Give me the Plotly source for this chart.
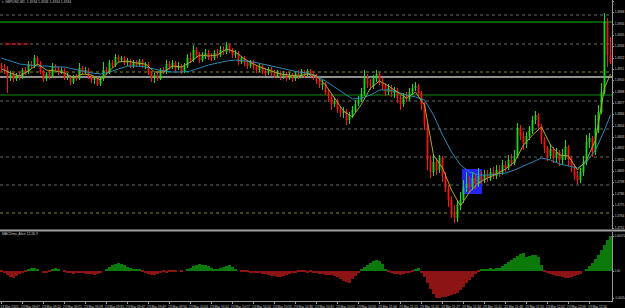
import plotly.graph_objects as go

# ---------------- data (GBPUSD M1) ----------------
first_open = 1.4914
close = [
    1.4912, 1.4910, 1.4902, 1.4906, 1.4901, 1.4905, 1.4903, 1.4910, 1.4908, 1.4916,
    1.4914, 1.4922, 1.4917, 1.4908, 1.4901, 1.4906, 1.4903, 1.4914, 1.4912, 1.4908,
    1.4910, 1.4902, 1.4904, 1.4898, 1.4903, 1.4901, 1.4912, 1.4908, 1.4910, 1.4903,
    1.4900, 1.4902, 1.4896, 1.4901, 1.4910, 1.4908, 1.4917, 1.4915, 1.4923, 1.4920,
    1.4922, 1.4917, 1.4919, 1.4914, 1.4918, 1.4915, 1.4919, 1.4914, 1.4916, 1.4907,
    1.4902, 1.4905, 1.4901, 1.4910, 1.4908, 1.4916, 1.4913, 1.4917, 1.4912, 1.4914,
    1.4909, 1.4914, 1.4922, 1.4920, 1.4930, 1.4925, 1.4920, 1.4924, 1.4927, 1.4923,
    1.4922, 1.4927, 1.4925, 1.4930, 1.4928, 1.4935, 1.4930, 1.4925, 1.4927, 1.4918,
    1.4922, 1.4917, 1.4914, 1.4918, 1.4913, 1.4910, 1.4914, 1.4909, 1.4907, 1.4911,
    1.4908, 1.4904, 1.4907, 1.4903, 1.4906, 1.4902, 1.4905, 1.4901, 1.4906, 1.4904,
    1.4908, 1.4905, 1.4909, 1.4906, 1.4904, 1.4899, 1.4895, 1.4897, 1.4888, 1.4884,
    1.4876, 1.4879, 1.4871, 1.4867, 1.4869, 1.4860, 1.4865, 1.4870, 1.4876, 1.4880,
    1.4886, 1.4902, 1.4896, 1.4894, 1.4901, 1.4906, 1.4898, 1.4894, 1.4888, 1.4892,
    1.4887, 1.4890, 1.4882, 1.4876, 1.4883, 1.4881, 1.4888, 1.4892, 1.4894, 1.4887,
    1.4876, 1.4855, 1.4820, 1.4808, 1.4818, 1.4810, 1.4822, 1.4804, 1.4792, 1.4780,
    1.4768, 1.4762, 1.4775, 1.4780, 1.4792, 1.4796, 1.4793, 1.4802, 1.4796, 1.4804,
    1.4800, 1.4805, 1.4802, 1.4808, 1.4804, 1.4810, 1.4807, 1.4815, 1.4812, 1.4820,
    1.4817, 1.4824, 1.4852, 1.4844, 1.4836, 1.4844, 1.4849, 1.4860, 1.4865, 1.4854,
    1.4840, 1.4832, 1.4824, 1.4831, 1.4822, 1.4828, 1.4820, 1.4825, 1.4833, 1.4821,
    1.4814, 1.4804, 1.4800, 1.4808, 1.4818, 1.4838, 1.4842, 1.4828, 1.4850, 1.4868,
    1.4888, 1.4958, 1.4925, 1.4918,
]
high = [
    1.4917, 1.4916, 1.4914, 1.4909, 1.4908, 1.4907, 1.4908, 1.4912, 1.4913, 1.4919,
    1.4919, 1.4925, 1.4924, 1.4919, 1.4910, 1.4908, 1.4909, 1.4917, 1.4916, 1.4914,
    1.4913, 1.4912, 1.4907, 1.4905, 1.4905, 1.4906, 1.4917, 1.4914, 1.4913, 1.4912,
    1.4905, 1.4904, 1.4903, 1.4904, 1.4918, 1.4913, 1.4920, 1.4920, 1.4926, 1.4925,
    1.4924, 1.4924, 1.4922, 1.4921, 1.4920, 1.4920, 1.4921, 1.4921, 1.4918, 1.4918,
    1.4909, 1.4907, 1.4908, 1.4912, 1.4913, 1.4920, 1.4919, 1.4920, 1.4919, 1.4918,
    1.4916, 1.4917, 1.4926, 1.4928, 1.4935, 1.4933, 1.4928, 1.4928, 1.4931, 1.4930,
    1.4927, 1.4930, 1.4931, 1.4934, 1.4934, 1.4938, 1.4937, 1.4932, 1.4930, 1.4929,
    1.4924, 1.4924, 1.4919, 1.4920, 1.4920, 1.4915, 1.4916, 1.4916, 1.4912, 1.4913,
    1.4913, 1.4910, 1.4910, 1.4909, 1.4909, 1.4908, 1.4908, 1.4907, 1.4909, 1.4910,
    1.4911, 1.4910, 1.4911, 1.4911, 1.4909, 1.4906, 1.4902, 1.4900, 1.4898, 1.4891,
    1.4886, 1.4882, 1.4881, 1.4874, 1.4873, 1.4871, 1.4868, 1.4874, 1.4880, 1.4884,
    1.4892, 1.4910, 1.4906, 1.4901, 1.4905, 1.4910, 1.4908, 1.4902, 1.4897, 1.4896,
    1.4895, 1.4893, 1.4892, 1.4885, 1.4887, 1.4888, 1.4892, 1.4896, 1.4898, 1.4896,
    1.4889, 1.4878, 1.4857, 1.4825, 1.4825, 1.4822, 1.4825, 1.4824, 1.4808, 1.4795,
    1.4784, 1.4775, 1.4780, 1.4788, 1.4800, 1.4808, 1.4804, 1.4808, 1.4806, 1.4812,
    1.4809, 1.4810, 1.4810, 1.4812, 1.4813, 1.4815, 1.4815, 1.4820, 1.4819, 1.4825,
    1.4826, 1.4830, 1.4857, 1.4855, 1.4849, 1.4848, 1.4854, 1.4864, 1.4869, 1.4867,
    1.4856, 1.4843, 1.4834, 1.4836, 1.4833, 1.4832, 1.4830, 1.4831, 1.4840, 1.4835,
    1.4824, 1.4816, 1.4809, 1.4812, 1.4824, 1.4845, 1.4847, 1.4844, 1.4865, 1.4875,
    1.4897, 1.4967, 1.4962, 1.4943,
]
low = [
    1.4908, 1.4906, 1.4887, 1.4899, 1.4898, 1.4899, 1.4900, 1.4901, 1.4905, 1.4906,
    1.4912, 1.4912, 1.4914, 1.4906, 1.4898, 1.4899, 1.4901, 1.4902, 1.4909, 1.4905,
    1.4906, 1.4900, 1.4900, 1.4895, 1.4896, 1.4899, 1.4900, 1.4905, 1.4906, 1.4901,
    1.4897, 1.4896, 1.4894, 1.4894, 1.4899, 1.4905, 1.4906, 1.4912, 1.4913, 1.4917,
    1.4918, 1.4915, 1.4914, 1.4912, 1.4912, 1.4913, 1.4913, 1.4912, 1.4911, 1.4905,
    1.4898, 1.4897, 1.4899, 1.4900, 1.4906, 1.4906, 1.4910, 1.4911, 1.4909, 1.4910,
    1.4906, 1.4907, 1.4912, 1.4917, 1.4918, 1.4922, 1.4917, 1.4918, 1.4921, 1.4920,
    1.4919, 1.4920, 1.4922, 1.4923, 1.4925, 1.4926, 1.4927, 1.4922, 1.4922, 1.4915,
    1.4916, 1.4914, 1.4911, 1.4912, 1.4910, 1.4907, 1.4908, 1.4906, 1.4904, 1.4905,
    1.4904, 1.4902, 1.4902, 1.4900, 1.4901, 1.4899, 1.4900, 1.4898, 1.4899, 1.4901,
    1.4902, 1.4902, 1.4903, 1.4903, 1.4900, 1.4896, 1.4892, 1.4890, 1.4885, 1.4878,
    1.4870, 1.4873, 1.4867, 1.4863, 1.4862, 1.4855, 1.4856, 1.4862, 1.4868, 1.4874,
    1.4878, 1.4884, 1.4892, 1.4890, 1.4891, 1.4898, 1.4895, 1.4890, 1.4884, 1.4885,
    1.4883, 1.4882, 1.4877, 1.4870, 1.4873, 1.4878, 1.4879, 1.4885, 1.4889, 1.4883,
    1.4870, 1.4850, 1.4810, 1.4802, 1.4804, 1.4805, 1.4807, 1.4798, 1.4788, 1.4773,
    1.4762, 1.4757, 1.4758, 1.4770, 1.4777, 1.4788, 1.4787, 1.4790, 1.4791, 1.4793,
    1.4796, 1.4797, 1.4798, 1.4799, 1.4801, 1.4801, 1.4803, 1.4805, 1.4808, 1.4810,
    1.4814, 1.4815, 1.4822, 1.4840, 1.4830, 1.4832, 1.4840, 1.4846, 1.4856, 1.4850,
    1.4836, 1.4827, 1.4819, 1.4821, 1.4817, 1.4818, 1.4814, 1.4815, 1.4820, 1.4814,
    1.4808, 1.4800, 1.4796, 1.4797, 1.4804, 1.4815, 1.4832, 1.4823, 1.4825, 1.4847,
    1.4866, 1.4886, 1.4913, 1.4916,
]

# moving averages, sampled every 3rd bar (+ last bar)
ma_idx = list(range(0, 204, 3)) + [203]
ma_fast = [
    1.4911, 1.4907, 1.4904, 1.4909, 1.4916, 1.4910, 1.4909, 1.4907, 1.4902, 1.4906,
    1.4905, 1.4900, 1.4909, 1.4918, 1.4919, 1.4917, 1.4916, 1.4908, 1.4908, 1.4914,
    1.4913, 1.4918, 1.4925, 1.4924, 1.4925, 1.4931, 1.4928, 1.4921, 1.4916, 1.4912,
    1.4909, 1.4906, 1.4905, 1.4904, 1.4906, 1.4904, 1.4895, 1.4882, 1.4869, 1.4863,
    1.4876, 1.4892, 1.4899, 1.4894, 1.4888, 1.4882, 1.4888, 1.4875, 1.4825, 1.4812,
    1.4790, 1.4774, 1.4788, 1.4797, 1.4802, 1.4806, 1.4811, 1.4818, 1.4835, 1.4845,
    1.4853, 1.4835, 1.4825, 1.4824, 1.4810, 1.4820, 1.4840, 1.4892, 1.4906,
]
ma_slow = [
    1.4922, 1.4919, 1.4916, 1.4915, 1.4914, 1.4914, 1.4913, 1.4913, 1.4911, 1.4909,
    1.4907, 1.4906, 1.4908, 1.4911, 1.4914, 1.4914, 1.4913, 1.4911, 1.4909, 1.4908,
    1.4908, 1.4909, 1.4912, 1.4915, 1.4917, 1.4919, 1.4920, 1.4919, 1.4918, 1.4916,
    1.4914, 1.4912, 1.4910, 1.4908, 1.4907, 1.4904, 1.4899, 1.4893, 1.4887, 1.4881,
    1.4882, 1.4885, 1.4890, 1.4890, 1.4888, 1.4885, 1.4883, 1.4880, 1.4865, 1.4845,
    1.4828, 1.4815, 1.4808, 1.4805, 1.4805, 1.4806, 1.4807, 1.4810, 1.4814, 1.4818,
    1.4822, 1.4820, 1.4816, 1.4814, 1.4812, 1.4818, 1.4830, 1.4850, 1.4865,
]

# MACD histogram in points (1 point = 0.00001)
macd_hist_points = [
    -2, -4, -8, -12, -14, -10, -6, -4, -2, 4,
    6, 6, 4, 0, -4, -4, -2, 4, 6, 4,
    0, -2, -4, -4, -6, -4, -4, -4, -6, -6,
    -6, -8, -6, -4, 0, 4, 8, 12, 14, 16,
    14, 12, 8, 6, 4, 4, 2, -2, -4, -6,
    -8, -8, -6, -4, -2, -4, -2, -2, -2, 0,
    -2, 0, 2, 6, 10, 12, 14, 12, 12, 10,
    6, 4, 4, 6, 8, 10, 12, 8, 2, 0,
    -2, -2, -2, -4, -4, -4, -4, -6, -6, -8,
    -10, -10, -12, -12, -10, -8, -6, -4, -4, -2,
    -2, -2, -4, -2, -4, -4, -6, -6, -8, -8,
    -8, -10, -12, -16, -20, -22, -24, -16, -10, -4,
    4, 8, 12, 16, 20, 22, 20, 14, 4, -2,
    -4, -6, -6, -8, -6, -4, -4, -2, 4, 6,
    -4, -12, -24, -36, -46, -54, -54, -52, -52, -50,
    -48, -46, -44, -38, -32, -24, -18, -12, -6, -2,
    2, 4, 4, 6, 4, 6, 6, 10, 14, 18,
    22, 26, 30, 34, 36, 28, 30, 32, 32, 28,
    12, -2, -4, -6, -8, -10, -10, -12, -14, -14,
    -12, -10, -8, -6, 0, 4, 10, 16, 24, 32,
    42, 52, 62, 70,
]

# price levels drawn on the chart
grid_levels = [1.4965, 1.4936, 1.4879, 1.4851, 1.4823, 1.4795]
olive_levels = [1.4908, 1.4767]
dark_green_level = 1.4958
silver_level = 1.4903
green_level = 1.4885
box_bars = (153.5, 160.2)
box_prices = (1.4786, 1.4811)

# axis tick labels
price_ticks = [1.4979, 1.4968, 1.4956, 1.4945, 1.4934, 1.4922, 1.4911, 1.4900,
               1.4888, 1.4877, 1.4866, 1.4854, 1.4843, 1.4832, 1.4820, 1.4809,
               1.4798, 1.4786, 1.4775, 1.4764, 1.4752]
macd_ticks = [0.0007, 0.0, -0.00054]
macd_tick_text = ["0.00070", "0.00", "-0.00054"]
time_pos = list(range(0, 197, 7))
time_labels = ["23 Mar 2015", "23 Mar 09:07", "23 Mar 09:14", "23 Mar 09:21", "23 Mar 09:28",
               "23 Mar 09:35", "23 Mar 09:42", "23 Mar 09:49", "23 Mar 09:56", "23 Mar 10:03",
               "23 Mar 10:10", "23 Mar 10:17", "23 Mar 10:24", "23 Mar 10:31", "23 Mar 10:38",
               "23 Mar 10:45", "23 Mar 10:52", "23 Mar 10:59", "23 Mar 11:06", "23 Mar 11:13",
               "23 Mar 11:20", "23 Mar 11:27", "23 Mar 11:34", "23 Mar 11:41", "23 Mar 11:48",
               "23 Mar 11:55", "23 Mar 12:02", "23 Mar 12:09", "23 Mar 12:16"]

# ---------------- build ----------------
n = len(close)
bars = list(range(n))
open_ = [first_open] + close[:-1]
high = [max(h, o, c) for h, o, c in zip(high, open_, close)]
low = [min(l, o, c) for l, o, c in zip(low, open_, close)]
macd_hist = [p * 1e-5 for p in macd_hist_points]
hist_colors = ["#0b7a0b" if v >= 0 else "#8c1414" for v in macd_hist]

FONT = "Liberation Sans"
AX = "#9a9a9a"
TXT = "#c8c8c8"
TICK_FS = 3.2

fig = go.Figure()
fig.add_trace(go.Candlestick(
    x=bars, open=open_, high=high, low=low, close=close,
    increasing=dict(line=dict(color="#19e019", width=1), fillcolor="#19e019"),
    decreasing=dict(line=dict(color="#ff1414", width=1), fillcolor="#ff1414"),
    whiskerwidth=0, xaxis="x", yaxis="y", showlegend=False))
fig.add_trace(go.Scatter(x=ma_idx, y=ma_slow, mode="lines",
                         line=dict(color="#2a88b4", width=1), xaxis="x", yaxis="y"))
fig.add_trace(go.Scatter(x=ma_idx, y=ma_fast, mode="lines",
                         line=dict(color="#a8a832", width=1), xaxis="x", yaxis="y"))
fig.add_trace(go.Bar(x=bars, y=macd_hist, marker=dict(color=hist_colors, line=dict(width=0)),
                     xaxis="x2", yaxis="y2"))

shapes = []
for lv in grid_levels:
    shapes.append(dict(type="line", xref="paper", x0=0, x1=1, yref="y", y0=lv, y1=lv,
                       line=dict(color="#6a6a6a", width=1, dash="dot"), layer="below"))
for lv in olive_levels:
    shapes.append(dict(type="line", xref="paper", x0=0, x1=1, yref="y", y0=lv, y1=lv,
                       line=dict(color="#8a8a20", width=1, dash="dot"), layer="below"))
shapes.append(dict(type="line", xref="paper", x0=0, x1=1, yref="y",
                   y0=dark_green_level, y1=dark_green_level,
                   line=dict(color="#005c00", width=2), layer="below"))
shapes.append(dict(type="line", xref="paper", x0=0, x1=1, yref="y",
                   y0=silver_level, y1=silver_level,
                   line=dict(color="#c0c0c0", width=1.5), layer="below"))
shapes.append(dict(type="line", xref="paper", x0=0, x1=1, yref="y",
                   y0=green_level, y1=green_level,
                   line=dict(color="#0a8a0a", width=1.2), layer="below"))
shapes.append(dict(type="rect", xref="x", x0=box_bars[0], x1=box_bars[1], yref="y",
                   y0=box_prices[0], y1=box_prices[1], fillcolor="#2424ee",
                   line=dict(width=0), layer="below"))
shapes.append(dict(type="line", xref="paper", x0=0, x1=1.03, yref="paper",
                   y0=0.2342, y1=0.2342, line=dict(color="#a0a0a0", width=2)))

annotations = [
    dict(text="▾ GBPUSD,M1  1.4934 1.4936 1.4934 1.4934", xref="paper", yref="paper",
         x=0.0, y=0.992, xanchor="left", yanchor="middle", showarrow=False,
         font=dict(family=FONT, size=3.4, color=TXT)),
    dict(text="Spread Spread", xref="paper", yref="paper", x=0.003, y=0.855,
         xanchor="left", yanchor="middle", showarrow=False,
         font=dict(family=FONT, size=3.6, color="#e01010")),
    dict(text="MACDma_Alert 12,26,9", xref="paper", yref="paper", x=0.0, y=0.222,
         xanchor="left", yanchor="middle", showarrow=False,
         font=dict(family=FONT, size=3.4, color=TXT)),
]

fig.update_layout(
    width=625, height=308, margin=dict(l=0, r=13, t=0, b=7, autoexpand=False),
    paper_bgcolor="black", plot_bgcolor="black", showlegend=False,
    bargap=0, boxgap=0.62, shapes=shapes, annotations=annotations,
    font=dict(family=FONT, size=TICK_FS, color=TXT),
    xaxis=dict(domain=[0, 1], range=[-0.5, n - 0.5], anchor="y", showticklabels=False,
               showgrid=False, zeroline=False, showline=False, automargin=False,
               rangeslider=dict(visible=False)),
    xaxis2=dict(domain=[0, 1], range=[-0.5, n - 0.5], anchor="y2",
                tickvals=time_pos, ticktext=time_labels, tickangle=0,
                tickfont=dict(family=FONT, size=TICK_FS, color=TXT),
                ticks="outside", ticklen=2, tickcolor=AX, ticklabelshift=8,
                showline=True, linecolor=AX, linewidth=1, automargin=False,
                showgrid=False, zeroline=False),
    yaxis=dict(domain=[0.2392, 1], range=[1.4751, 1.4980], anchor="x", side="right",
               tickvals=price_ticks, ticktext=[f"{v:.4f}" for v in price_ticks],
               tickfont=dict(family=FONT, size=TICK_FS, color=TXT),
               ticks="outside", ticklen=1, tickcolor=AX, automargin=False,
               showline=True, linecolor=AX, linewidth=1,
               showgrid=False, zeroline=False),
    yaxis2=dict(domain=[0, 0.2292], range=[-0.0006, 0.00078], anchor="x2", side="right",
                tickvals=macd_ticks, ticktext=macd_tick_text,
                tickfont=dict(family=FONT, size=2.9, color=TXT),
                ticks="outside", ticklen=1, tickcolor=AX, automargin=False,
                showline=True, linecolor=AX, linewidth=1,
                showgrid=False, zeroline=False),
)

fig.write_html("out.html")
